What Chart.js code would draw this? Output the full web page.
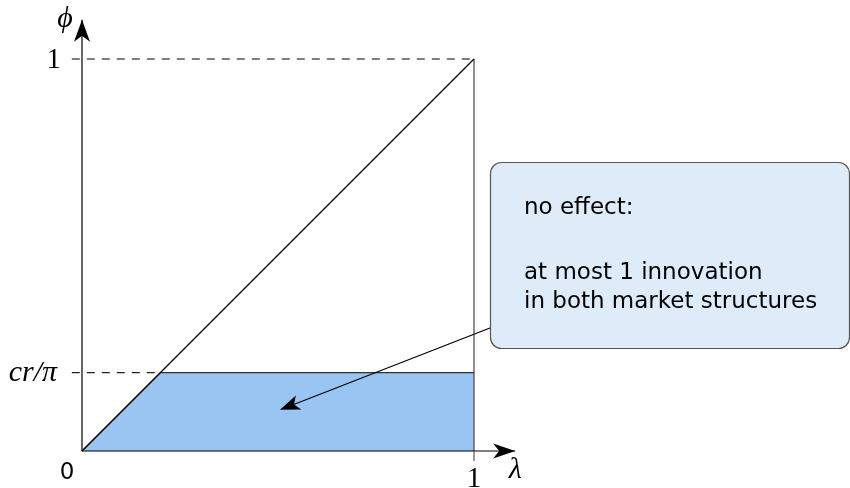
<!DOCTYPE html>
<html lang="en">
<head>
<meta charset="UTF-8">
<title>no effect region</title>
<script src="https://cdn.jsdelivr.net/npm/chart.js"></script>
<style>
  body { margin: 0; background: #fff; }
  canvas { display: block; }
</style>
</head>
<body>
<canvas id="myChart" width="850" height="488"></canvas>
<script>
// threshold cr/pi on the phi axis
const threshold = 0.2
const diagonal = [{x: 0, y: 0}, {x: 1, y: 1}]
const region = [{x: 0, y: 0}, {x: threshold, y: threshold}, {x: 1, y: threshold}]
const rightEdge = [{x: 1, y: 0}, {x: 1, y: 1}]
const dashOne = [{x: -0.026, y: 1}, {x: 1, y: 1}]
const dashThreshold = [{x: -0.026, y: threshold}, {x: threshold, y: threshold}]
const xAxisLine = [{x: 0, y: 0}, {x: 1.105, y: 0}]
const yAxisLine = [{x: 0, y: 0}, {x: 0, y: 1.1}]
const yTickValues = [1, threshold]
const yTickLabels = ['1', 'cr/π']
const xTickValues = [1]
const xTickLabels = ['1']
const boxLines = ['no effect:', '', 'at most 1 innovation', 'in both market structures']
const arrowTarget = {x: 0.505, y: 0.105}

const serif = 'italic 30px "Liberation Serif"'
const upright = '29px "Liberation Serif"'

function stealth(ctx, tx, ty, ang, len, half, notch) {
    ctx.save()
    ctx.translate(tx, ty)
    ctx.rotate(ang)
    ctx.beginPath()
    ctx.moveTo(0, 0)
    ctx.lineTo(-len, half)
    ctx.lineTo(-len + notch, 0)
    ctx.lineTo(-len, -half)
    ctx.closePath()
    ctx.fillStyle = '#000'
    ctx.fill()
    ctx.restore()
}

function roundRect(ctx, x, y, w, h, r) {
    ctx.beginPath()
    ctx.moveTo(x + r, y)
    ctx.lineTo(x + w - r, y)
    ctx.arcTo(x + w, y, x + w, y + r, r)
    ctx.lineTo(x + w, y + h - r)
    ctx.arcTo(x + w, y + h, x + w - r, y + h, r)
    ctx.lineTo(x + r, y + h)
    ctx.arcTo(x, y + h, x, y + h - r, r)
    ctx.lineTo(x, y + r)
    ctx.arcTo(x, y, x + r, y, r)
    ctx.closePath()
}

const decorations = {
    id: 'decorations',
    afterDatasetsDraw(chart) {
        const ctx = chart.ctx
        const xs = chart.scales.x
        const ys = chart.scales.y
        const x0 = xs.getPixelForValue(0)
        const y0 = ys.getPixelForValue(0)

        // axis arrowheads
        stealth(ctx, xs.getPixelForValue(xAxisLine[1].x), y0, 0, 22, 7.5, 6)
        stealth(ctx, x0, ys.getPixelForValue(yAxisLine[1].y), -Math.PI / 2, 22, 8, 6)

        ctx.strokeStyle = '#555'
        ctx.lineWidth = 1.2
        ctx.fillStyle = '#000'

        // x ticks and labels
        xTickValues.forEach((v, i) => {
            const px = xs.getPixelForValue(v)
            ctx.beginPath()
            ctx.moveTo(px, y0)
            ctx.lineTo(px, y0 + 10)
            ctx.stroke()
            ctx.font = upright
            ctx.textAlign = 'center'
            ctx.textBaseline = 'alphabetic'
            ctx.fillText(xTickLabels[i], px, y0 + 36)
        })

        // y tick labels
        yTickValues.forEach((v, i) => {
            const py = ys.getPixelForValue(v)
            ctx.font = v === 1 ? upright : serif
            ctx.textAlign = 'right'
            ctx.textBaseline = 'middle'
            ctx.fillText(yTickLabels[i], x0 - (v === 1 ? 21 : 25), py + 1)
        })

        // origin and axis names
        ctx.font = '23px "DejaVu Sans"'
        ctx.textAlign = 'center'
        ctx.textBaseline = 'alphabetic'
        ctx.fillText('0', x0 - 15, y0 + 28)
        ctx.font = serif
        ctx.fillText('λ', xs.getPixelForValue(xAxisLine[1].x), y0 + 27)
        ctx.fillText('ϕ', x0 - 17, 27)

        // callout box
        const bx = 490, by = 162, bw = 359, bh = 186
        roundRect(ctx, bx + 0.5, by + 0.5, bw, bh, 11)
        ctx.fillStyle = '#deebf9'
        ctx.fill()
        ctx.strokeStyle = '#555'
        ctx.stroke()

        ctx.fillStyle = '#000'
        ctx.font = '23px "DejaVu Sans"'
        ctx.textAlign = 'left'
        const baselines = [214, 0, 279, 308]
        boxLines.forEach((t, i) => { if (t) ctx.fillText(t, 524, baselines[i], 296) })

        // pointer from box into the shaded region
        const sx = bx, sy = 328
        const tx = xs.getPixelForValue(arrowTarget.x)
        const ty = ys.getPixelForValue(arrowTarget.y)
        const ang = Math.atan2(ty - sy, tx - sx)
        ctx.beginPath()
        ctx.moveTo(sx, sy)
        ctx.lineTo(tx - 12 * Math.cos(ang), ty - 12 * Math.sin(ang))
        ctx.strokeStyle = '#000'
        ctx.stroke()
        stealth(ctx, tx, ty, ang, 20, 7.5, 5)
    }
}

const line = (data, color, extra) => Object.assign({
    data: data, borderColor: color, borderWidth: 1.2, pointRadius: 0,
    showLine: true, fill: false, clip: false, tension: 0
}, extra || {})

const ctx = document.getElementById('myChart')
const myChart = new Chart(ctx, {
    type: 'scatter',
    data: {
        datasets: [
            line(xAxisLine, '#000'),
            line(yAxisLine, '#000'),
            line(diagonal, '#000'),
            line(rightEdge, '#444'),
            line(dashOne, '#000', {borderDash: [8, 7]}),
            line(dashThreshold, '#222', {borderDash: [8, 7]}),
            line(region, '#333', {fill: 'origin', backgroundColor: '#99c5f3', order: 2})
        ]
    },
    options: {
        responsive: false,
        animation: false,
        devicePixelRatio: 1,
        layout: {padding: {left: 82, right: 376, top: 59, bottom: 37}},
        scales: {
            x: {type: 'linear', min: 0, max: 1, display: false},
            y: {type: 'linear', min: 0, max: 1, display: false}
        },
        plugins: {legend: {display: false}, tooltip: {enabled: false}}
    },
    plugins: [decorations]
})
</script>
</body>
</html>
